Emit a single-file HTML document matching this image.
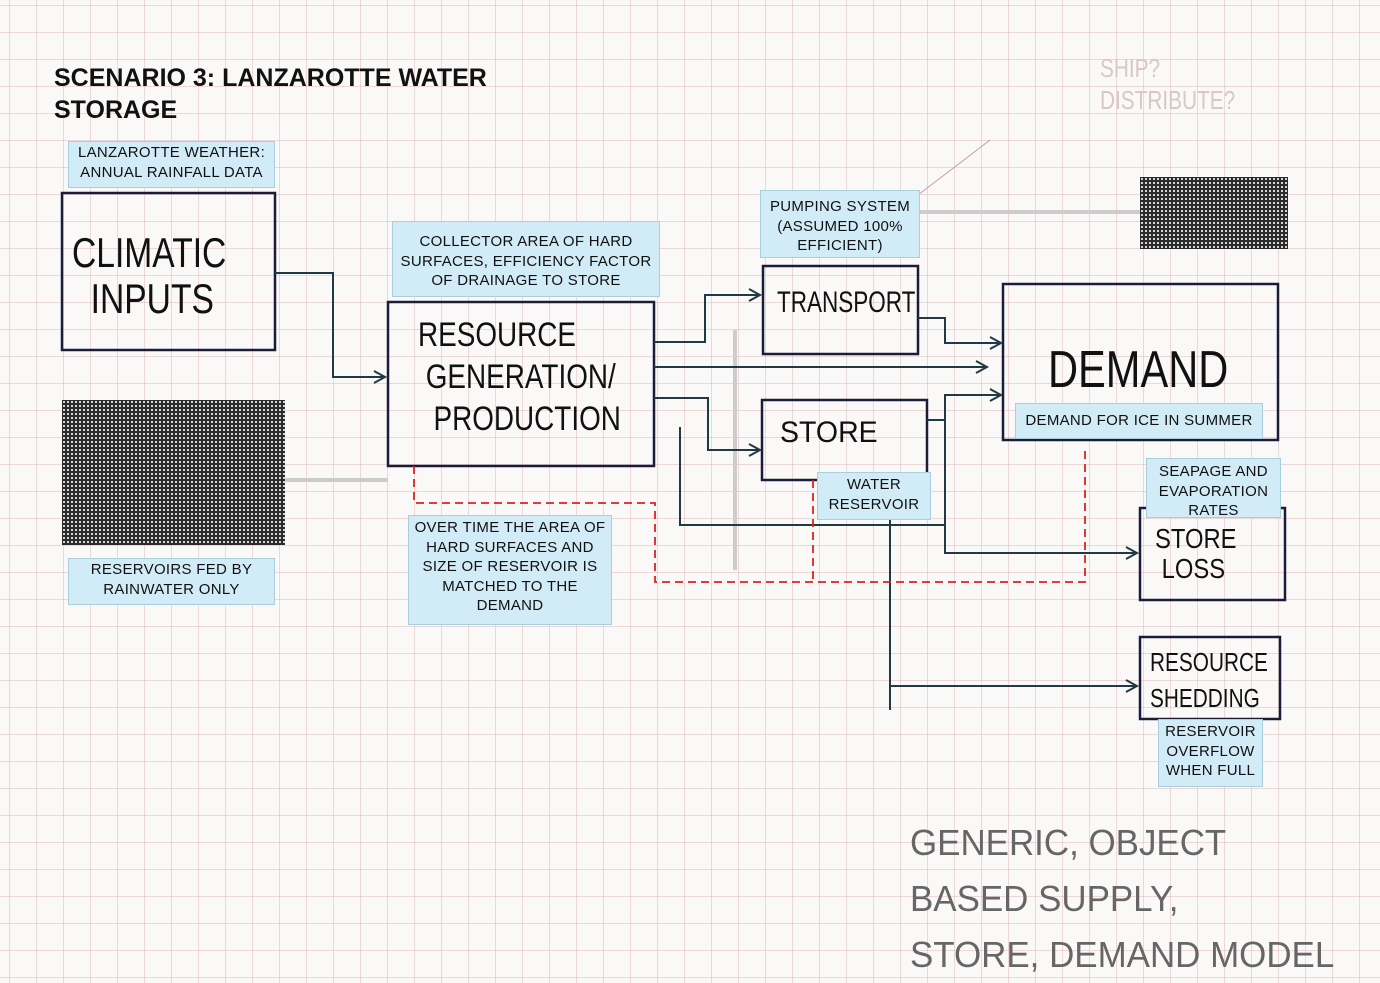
<!DOCTYPE html>
<html><head><meta charset="utf-8"><style>
html,body{margin:0;padding:0}
body{width:1380px;height:978px;position:relative;overflow:hidden;background:#fbf9f8;
background-image:linear-gradient(90deg,rgba(200,150,150,.32) 1px,transparent 1px),linear-gradient(rgba(200,150,150,.32) 1px,transparent 1px);
background-size:27px 27px;background-position:9px 0,0 5px;font-family:"Liberation Sans",sans-serif}
.lab{position:absolute;background:#d2ecf7;border:1px solid #a9cfdc;color:#111;font-size:15px;line-height:19.5px;text-align:center;letter-spacing:.3px}
.hw{position:absolute;font-family:"Liberation Sans",sans-serif;color:#111;transform-origin:0 0;white-space:nowrap}
svg{position:absolute;left:0;top:0}
.dark{position:absolute;background:#2b2b2b;background-image:radial-gradient(#fff 0.9px,transparent 1.1px);background-size:4px 4px}
</style></head><body>
<div style="position:absolute;left:54px;top:62px;font-weight:bold;font-size:25px;line-height:32px;color:#111">SCENARIO 3: LANZAROTTE WATER<br>STORAGE</div>

<div class="dark" style="left:62px;top:400px;width:223px;height:145px"></div>
<div class="dark" style="left:1140px;top:177px;width:148px;height:72px"></div>

<svg width="1380" height="978" fill="none" stroke="#1a1d3a" stroke-width="2.5">
<rect x="62" y="193" width="213" height="157"/>
<rect x="388" y="302" width="266" height="164"/>
<rect x="763" y="266" width="155" height="88"/>
<rect x="762" y="400" width="165" height="80"/>
<rect x="1003" y="284" width="275" height="156"/>
<rect x="1140" y="508" width="145" height="92"/>
<rect x="1140" y="637" width="140" height="82"/>
<g stroke="#ccc" stroke-width="4"><path d="M918 212 H1140"/><path d="M285 480 H388"/><path d="M735 330 V570"/></g>
<g stroke-width="2" stroke="#1f3a44">
<path d="M275 273 H333 V377 H385"/>
<path d="M654 342 H705 V295 H760"/>
<path d="M654 398 H708 V450 H760"/>
<path d="M654 367 H985"/>
<path d="M918 318 H945 V343 H1000"/>
<path d="M927 420 H945 V395 H1000"/>
<path d="M680 427 V525 H945 V553 H1137 M945 420 V553"/>
<path d="M890 480 V710 M890 686 H1137"/>
<path d="M374 371 L385 377 L374 383 M749 289 L760 295 L749 301 M749 444 L760 450 L749 456 M976 361 L987 367 L976 373 M990 337 L1001 343 L990 349 M990 389 L1001 395 L990 401 M1126 547 L1137 553 L1126 559 M1126 680 L1137 686 L1126 692"/>
</g>
<path d="M918 195 L990 140" stroke="#c9a" stroke-width="1"/>
<g stroke="#d22" stroke-width="1.8" stroke-dasharray="8 5">
<path d="M414 466 V503 H655 V582 H1085 V450"/><path d="M813 480 V580"/>
</g>
</svg>

<div class="hw" style="left:72px;top:230px;font-size:42px;line-height:46px;transform:scaleX(.8)">CLIMATIC<br>&nbsp;&nbsp;INPUTS</div>
<div class="hw" style="left:418px;top:314px;font-size:34px;line-height:42px;transform:scaleX(.82)">RESOURCE<br>&nbsp;GENERATION/<br>&nbsp;&nbsp;PRODUCTION</div>
<div class="hw" style="left:777px;top:286px;font-size:30px;transform:scaleX(.75)">TRANSPORT</div>
<div class="hw" style="left:780px;top:416px;font-size:30px;transform:scaleX(.95)">STORE</div>
<div class="hw" style="left:1048px;top:340px;font-size:52px;transform:scaleX(.8)">DEMAND</div>
<div class="hw" style="left:1155px;top:524px;font-size:28px;line-height:30px;transform:scaleX(.85)">STORE<br>&nbsp;LOSS</div>
<div class="hw" style="left:1150px;top:644px;font-size:26px;line-height:36px;transform:scaleX(.8)">RESOURCE<br>SHEDDING</div>
<div class="hw" style="left:910px;top:815px;font-size:36px;line-height:56px;color:#666;transform:scaleX(.97)">GENERIC, OBJECT<br>BASED SUPPLY,<br>STORE, DEMAND MODEL</div>
<div class="hw" style="left:1100px;top:52px;font-size:26px;line-height:32px;color:#d8c6ca;transform:scaleX(.8)">SHIP?<br>DISTRIBUTE?</div>

<div class="lab" style="left:68px;top:141px;width:205px;height:44px;padding-top:1px">LANZAROTTE WEATHER:<br>ANNUAL RAINFALL DATA</div>
<div class="lab" style="left:68px;top:558px;width:205px;height:44px;padding-top:1px">RESERVOIRS FED BY<br>RAINWATER ONLY</div>
<div class="lab" style="left:392px;top:221px;width:268px;height:76px;padding-top:10px;box-sizing:border-box">COLLECTOR AREA OF HARD<br>SURFACES, EFFICIENCY FACTOR<br>OF DRAINAGE TO STORE</div>
<div class="lab" style="left:408px;top:515px;width:204px;height:110px;padding-top:2px;box-sizing:border-box">OVER TIME THE AREA OF<br>HARD SURFACES AND<br>SIZE OF RESERVOIR IS<br>MATCHED TO THE<br>DEMAND</div>
<div class="lab" style="left:760px;top:190px;width:160px;height:68px;padding-top:6px;box-sizing:border-box">PUMPING SYSTEM<br>(ASSUMED 100%<br>EFFICIENT)</div>
<div class="lab" style="left:817px;top:472px;width:114px;height:48px;padding-top:2px;box-sizing:border-box">WATER<br>RESERVOIR</div>
<div class="lab" style="left:1015px;top:403px;width:248px;height:36px;padding-top:7px;box-sizing:border-box">DEMAND FOR ICE IN SUMMER</div>
<div class="lab" style="left:1146px;top:458px;width:135px;height:60px;padding-top:3px;box-sizing:border-box">SEAPAGE AND<br>EVAPORATION<br>RATES</div>
<div class="lab" style="left:1158px;top:719px;width:105px;height:68px;padding-top:2px;box-sizing:border-box">RESERVOIR<br>OVERFLOW<br>WHEN FULL</div>
</body></html>
